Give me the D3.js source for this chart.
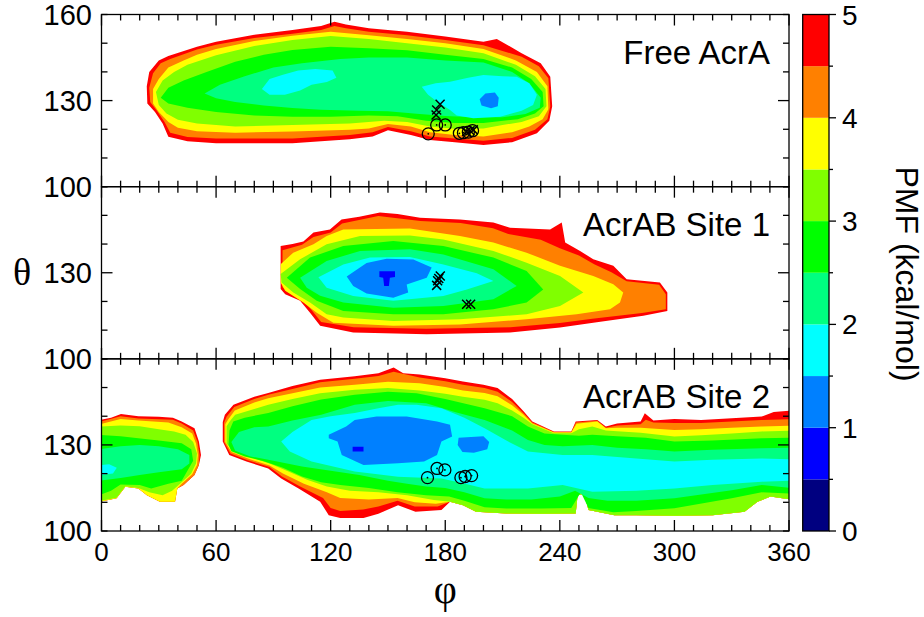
<!DOCTYPE html>
<html><head><meta charset="utf-8">
<script src="https://cdn.jsdelivr.net/npm/d3@7"></script>
<style>
body{margin:0;background:#fff}
text{font-family:"Liberation Sans",Arial,Helvetica,sans-serif;fill:#000}
</style></head>
<body><svg id="chart" width="924" height="617"></svg>
<script>
// ---------- data ----------
const levelBounds = [0,0.5,1,1.5,2,2.5,3,3.5,4,4.5,5];
const levelColors = ["#000080","#0000ff","#0080ff","#00ffff","#00ff80","#00ff00","#80ff00","#ffff00","#ff8000","#ff0000"];
const panelNames = ["Free AcrA","AcrAB Site 1","AcrAB Site 2"];
const phiTicks = [0,60,120,180,240,300,360];
const thetaLabelsTop = [160,130,100];
const thetaLabelsOther = [130,100];
const pmfTicks = [0,1,2,3,4,5];

// Free AcrA contour outlines [phi, theta], value = upper PMF bound of region
const top_L50 = [[23.7,135],[25,140],[30,144],[35,145.5],[50,148.8],[60,150.5],[80,152.9],[100,154.6],[115,156],[122,157.5],[128,156.5],[140,155.2],[160,154],[180,152.3],[200,150.5],[207,151.5],[220,146.5],[230,143],[235,138.3],[236,128],[234.5,123],[228,118.6],[215,115.5],[200,114.5],[185,115.5],[172,116.3],[162,118],[150,119.7],[142,117.5],[130,116.5],[100,115.1],[60,115.1],[45,115.8],[35,117.4],[32,122],[28,126],[24,129]];
const top_L45 = [[25,134.5],[27,139.5],[31,143],[36,144.5],[50,147.8],[60,149.5],[80,151.8],[100,153.3],[115,154.6],[122,156],[128,155.2],[140,154],[160,152.8],[180,151.1],[200,149.3],[220,145.3],[229,142],[234,137.8],[235,128],[233.5,123.5],[227,119.8],[215,117],[200,116],[185,116.8],[172,117.5],[162,119.3],[150,120.8],[142,119],[130,118],[100,116.8],[60,116.8],[45,117.3],[36,118.8],[33,122.5],[29,126.5],[25.5,129.5]];
const top_L40 = [[27,134],[30,137.5],[35,141.5],[43,144],[50,146],[60,148],[80,150.8],[100,152.6],[120,154],[140,152.8],[160,151.5],[180,150],[200,148],[217,144],[228,140],[233.5,135],[234,127],[231,123.5],[224,121],[215,119],[200,117.5],[185,118],[172,119],[162,121],[150,121.8],[140,120.3],[130,119.8],[100,119.2],[70,118.8],[50,119.3],[40,120.5],[35,122.5],[30,126],[27,129]];
const top_L35 = [[28.5,133],[32,137],[38,140],[45,142.5],[60,145.8],[80,149],[100,151.1],[120,152.5],[140,151.5],[160,150],[180,148.5],[200,146.5],[217,142.5],[227,138.5],[232.5,134],[233,128],[229,124.5],[220,122.5],[210,121.5],[200,120.3],[185,120.2],[172,121],[160,122.5],[148,123],[130,122],[100,121.5],[70,121],[50,122],[40,123.3],[34,125.5],[30,128.5]];
const top_L30 = [[31,131],[35,134.5],[43,137],[55,140],[70,143.5],[85,146],[100,147.6],[120,148.8],[140,148.2],[160,147.5],[180,146],[200,144.5],[215,141.5],[225,137.5],[231,133],[231.5,128],[227,125.5],[218,123.5],[200,122.2],[185,122.2],[170,123],[155,124.5],[140,124.8],[120,124.4],[100,124.4],[80,124.8],[60,126],[45,127.5],[35,129]];
const top_L25 = [[54,132.5],[62,135.5],[75,138.5],[90,141.5],[105,143],[125,144.5],[140,145],[160,145],[180,144],[200,143.3],[215,140],[224,136],[230,131],[229.5,127.5],[222,125.3],[210,124.2],[195,124.2],[180,124.6],[165,125.4],[150,126.3],[135,126.5],[115,126.8],[100,127.4],[85,128.3],[70,129.5],[60,130.8]];
const top_L20a = [[84,134],[88,137.5],[95,139],[103,140.5],[112,141],[121,140.5],[123,138],[118,136.5],[110,135.5],[104,133.5],[96,132],[88,132]];
const top_L20b = [[167.7,134.8],[175,136],[182.5,136.6],[192,138],[200,138.9],[210,138.5],[217.4,138.3],[224,136],[228,132],[226,128.5],[220,126.5],[208.7,124.4],[194.7,123.8],[186,124.8],[182.5,126.7],[176,129.5],[171,132]];
const top_L15 = [[198,130.5],[201,132.5],[206,132.8],[208,131],[207.5,128],[204,127.3],[199,128.3]];

// AcrAB Site 1
const mid_L50 = [[93.8,124.3],[93.8,139.3],[100,140],[105.7,140.9],[111,144],[119.6,145.1],[125.7,148.6],[135,149.5],[145.8,151],[155,150.5],[166.8,149.2],[187.7,148.6],[205.2,147.5],[213.9,145.7],[234.9,145.1],[241,147.5],[242.8,140.5],[250.6,137.6],[257.5,134.7],[268,132.4],[275,127.7],[292.4,126.6],[296.3,123.1],[296.3,116.7],[283.7,115],[257.5,112.6],[240.1,110.9],[213.9,109.2],[170.3,108.6],[131.8,109.2],[114.5,111.5],[109.2,116.1],[104,120.2],[96.2,122.5]];
const mid_L45 = [[94.8,125],[94.8,137.8],[105,139.8],[111,142.5],[120,144],[126,147.2],[145,149.8],[167,148],[188,147.3],[205,145.5],[213,143.5],[230,141.5],[240,138.5],[250,136],[258,133],[267,130.2],[275,127],[292,125.8],[295.5,122.5],[295.5,117.3],[283,116],[257,114],[240,112.5],[214,111],[170,110.5],[132,111],[115,112.8],[110,117],[104.5,121],[97,123.5]];
const mid_L40 = [[93.8,133],[100.4,137],[111,139.9],[117.9,142.8],[126.6,145.1],[161.5,145.4],[187.7,142.8],[205.2,140.5],[222.6,137],[240.1,132.4],[257.5,128.9],[268,126],[273.2,123.1],[271.5,119.6],[266.3,117.3],[248.8,115.5],[222.6,113.8],[187.7,112],[152.8,111.5],[121.4,112.6],[112.7,116.1],[105.7,119.6],[96.2,123.7],[93.8,126.6]];
const mid_L35 = [[93.8,129.6],[104,134.7],[117.9,139.9],[135.4,142.8],[161.5,143],[179,141.6],[205.2,137.6],[222.6,133.5],[240.1,128.9],[252.3,123.1],[240.1,118.4],[222.6,115.5],[187.7,113.8],[152.8,113.2],[126.6,114.4],[117.9,115.5],[109.2,119.6],[100.4,123.1],[94.3,126.6]];
const mid_L30 = [[97,128.3],[109.2,135.3],[126.6,139.3],[152.8,141.1],[179,139.3],[205.2,135.3],[222.6,130.6],[231.3,124.2],[222.6,119.6],[205.2,117.3],[179,115.5],[152.8,115.5],[126.6,116.7],[112.7,120.2],[104,124.3]];
const mid_L25 = [[104,128.3],[117.9,134.1],[135.4,137.6],[161.5,138.2],[179,136.4],[205.2,131.2],[217.4,125.4],[205.2,120.8],[179,118.4],[152.8,117.8],[126.6,119.6],[114.5,122],[107.5,124.8]];
const mid_L20 = [[113.6,128.4],[126.6,132.9],[140.6,135.3],[161.5,135.5],[179,132.9],[196.5,129.8],[205.2,127.1],[191.3,124.2],[179,121.9],[152.8,120.2],[131.8,121.9],[117.9,124.8]];
const mid_L15 = [[128.4,128.7],[138.8,133.4],[149.3,134.9],[163.3,134.6],[172.9,131.8],[170.3,128.3],[159.8,125.9],[160.6,123.1],[152.8,121.3],[138.8,122.8],[131.8,125.4]];
const mid_L10 = [[145.5,130.5],[153.7,130.5],[153.7,128.5],[151,128.3],[150.5,125.4],[148,125.4],[147.5,128.3],[145.5,128.5]];

// AcrAB Site 2
const bot_L50 = [[63.5,131.2],[63.5,138],[64.6,140.5],[69.1,144],[80,146.8],[87.3,148.1],[100,150.5],[114.5,152.7],[132.6,153.9],[145,155],[153,157],[158,155],[166.6,154.5],[180,153.2],[189.3,152.1],[200,151],[207.4,149.8],[215,146],[221,141.7],[225.6,138.2],[236.9,134.7],[246,134.7],[248.3,138.2],[259.6,138.7],[264.1,136.4],[270,137.5],[282.3,138.2],[284.5,141],[289,138.5],[300,139],[314,138.7],[330,139.3],[345.7,139.9],[352,141.5],[361,142],[361,111],[350.3,112],[343.5,110.2],[336.7,106.7],[320,105.5],[300,105.3],[280,105.5],[268.6,105.5],[255,107.3],[252.8,113],[249.3,112.5],[248.3,106.1],[230,106],[212,106.1],[196.1,106.7],[189.3,109],[182.5,110.2],[178,107.3],[164.4,106.7],[155.3,109],[145,106],[137.2,104.5],[125,104.5],[119,105.5],[114.5,110.2],[103.2,114.8],[94.1,118.3],[87.3,121.8],[75.9,124.2],[66.9,126.5]];
const bot_L45 = [[64.2,131],[64.2,137.8],[65.5,139.8],[69.5,143.2],[80,146],[87.3,147.5],[100,149.5],[114.5,151.8],[132.6,153.1],[145,154],[153,155.5],[166.6,153.5],[180,152.2],[189.3,151],[200.6,149.8],[207.4,148.5],[215,145],[221,141],[225.6,137.8],[236.9,134.5],[246,134.5],[248.5,137.8],[259.6,138.4],[264.1,136],[270,136.8],[282.3,137.2],[285,138.8],[289,137.8],[300,137.6],[314,137.6],[330,138.2],[345.7,138.7],[361,139],[361,111],[350.3,112],[343.5,110.2],[336.7,106.7],[320,105.5],[300,105.3],[280,105.5],[268.6,105.5],[255,107.3],[252.8,113],[249.3,112.5],[248.3,106.1],[230,106],[212,106.1],[196.1,106.7],[189.3,109],[182.5,110.2],[176,108.5],[164,108.5],[155,110.5],[145,108.5],[137,107.5],[125,107],[120,108],[116,111.5],[104,115.5],[94.5,119],[88,122.3],[76.5,124.7],[67.5,127]];
const bot_L40 = [[64.8,131],[64.8,137.2],[66.5,139],[69.8,142],[80,144.8],[87.3,146.3],[100,148],[114.5,150],[132.6,151],[150,152],[166.6,151.5],[180,150.2],[189.3,149],[200.6,148.1],[207.4,147],[215,143.8],[221,140.5],[225.6,137.5],[236.9,134.3],[246,134.3],[248.8,137.4],[259.6,138.2],[264.1,135.8],[270,136],[282.3,136],[300,135.2],[314,135.5],[330,136],[345.7,136.4],[361,136.7],[361,111],[350.3,112],[343.5,110.2],[336.7,106.7],[320,105.5],[300,105.3],[280,105.5],[268.6,105.5],[255,107.3],[252.8,113],[249.3,112.5],[248.3,106.1],[230,106],[212,106.1],[196.1,106.7],[189.3,109],[182.5,110.2],[175,109.5],[164,110],[155,111.5],[140,111],[125,111.5],[118,113.5],[106,116.5],[95,120],[88,122.8],[77,125.2],[68,127.5]];
const bot_L35 = [[65.5,130.5],[65.5,136.5],[67.5,138.5],[70,140.5],[80,142.5],[87.3,144],[100,146],[114.5,148],[132.6,149.2],[150,149.8],[166.6,149],[180,147.8],[189.3,146.8],[200.6,145.7],[207.4,144.5],[215,142],[221,139.5],[225.6,137.2],[236.9,134.1],[246,134.1],[250,135.5],[257,136.4],[264.1,135],[270,134.8],[282.3,134.2],[300,132.9],[314,133.4],[330,134],[345.7,134.7],[361,135],[361,111],[350.3,112],[343.5,110.2],[336.7,106.7],[320,105.5],[300,105.3],[280,105.5],[268.6,105.5],[255,107.3],[252.8,113],[249.3,112.5],[248.3,106.1],[230,106],[212,106.1],[196.1,106.7],[189.3,109],[182.5,110.2],[174,110.8],[160,112.5],[145,113.5],[130,114],[118,115.5],[108,117.8],[97,121],[89,123.3],[78,125.8],[69,128]];
const bot_L30 = [[66.5,130],[67,135],[69,138.2],[75,139.5],[87.3,141.1],[100,143.5],[115,145.8],[132.6,147.5],[150,148.5],[165,148],[180,146],[200.6,142.8],[215,140],[223.3,136.4],[232,134],[241.5,133.5],[250,133.2],[257,133.5],[270,133],[285,132.5],[300,131.2],[320,131.5],[345.7,132.3],[361,132.5],[361,113],[345.7,113.5],[330,111.4],[300,107.9],[280,107],[268,106.5],[255,108],[251,113.5],[246,108],[230,107.8],[212,107.8],[200.6,108.3],[190,110.5],[182,112],[170,112.5],[155,113.5],[140,115],[125,116],[115,117],[105,119],[95,122],[85,124.3],[75,126],[68,127.8]];
const bot_L25 = [[68,131],[72,134.5],[80,136.2],[87.3,136.4],[100,138.5],[115,140.5],[132.6,144],[150,145.3],[170,144.5],[185,141.5],[200.6,138.7],[215,135],[223.3,131.7],[232,130],[241.5,129.5],[257,130],[270,129],[285,128.5],[300,127.7],[320,128.3],[345.7,128.8],[361,129],[361,115],[345.7,116],[330,114.2],[300,111.4],[280,110.5],[265,110.5],[255,111.5],[248,114],[240,112],[225,111],[212,111],[200.6,111.4],[190,113.5],[180,115],[170,115.5],[160,116.5],[150,117.5],[135,119.5],[120,121],[105,122.5],[90,124.5],[78,126],[70,128]];
const bot_L20 = [[94.1,131.2],[100,134.5],[110,138.7],[120,140],[132.6,141.1],[145,142.8],[155.3,144],[165,144],[178,142.8],[190,139.5],[200.6,135.8],[212,131.5],[223.3,127.7],[241.5,126.5],[257,126.5],[280,125.3],[300,124.2],[320,124.8],[345.7,125.3],[361,125],[361,117.5],[345.7,117.2],[320,116],[300,114.8],[280,114],[257,113.7],[241.5,116],[223.3,114.8],[200.6,114.8],[189.3,116.6],[178,118.3],[155.3,118.9],[132.6,120.7],[110,124.2],[98.6,127.7]];
const bot_L15a = [[119,133.5],[128.1,136.4],[132.6,138.7],[144,139.9],[159.8,139.9],[175.7,138.2],[182.5,137],[183.6,132.9],[178,131.2],[175.7,126.5],[168.9,124.2],[155.3,123.6],[137.2,123],[125.8,126.5],[123.6,131.2],[119,132.3]];
const bot_L15b = [[187,132.5],[200,133],[203,131],[202,128.5],[195,127.3],[189,127.5],[186.5,130]];
const bot_L10 = [[131.5,129.4],[137.2,129.4],[137.2,127.7],[131.5,127.7]];
const botLeft_L50 = [[-1,138.7],[5,139.5],[10.2,140.8],[19.3,140],[30,139.8],[37.4,139.5],[42,138.2],[48.7,135.8],[51,131.2],[52.1,126.5],[51,123],[48.7,119.5],[43,116],[39.7,114.8],[38.5,110.2],[30.6,110.2],[23.8,112.5],[19.3,114.8],[12.5,115.4],[7.9,111.4],[-1,110.2]];
const botLeft_L45 = [[-1,138],[10,140],[19.3,139.2],[37.4,138.8],[42,137.5],[48,135],[50.3,131],[51.3,126.5],[51,123],[48.7,119.5],[43,116],[39.7,114.8],[38.5,110.2],[30.6,110.2],[23.8,112.5],[19.3,114.8],[12.5,115.4],[7.9,111.4],[-1,110.2]];
const botLeft_L40 = [[-1,137.2],[10,139],[19.3,138.5],[35,137.8],[42,136.2],[47.5,134],[49.5,130.5],[50.5,126.5],[50,123],[47.5,119.8],[42,116.5],[39.7,114.8],[38.5,110.2],[30.6,110.2],[23.8,112.5],[19.3,114.8],[12.5,115.4],[7.9,111.4],[-1,110.2]];
const botLeft_L35 = [[-1,136.4],[10,136.8],[20,136.5],[30,135.5],[38,134.7],[44,133.5],[48,131],[50,127],[49.5,123.5],[47,120],[42,117],[37,114],[32,112.5],[25,113.5],[19.3,115],[12.5,115.6],[7.9,111.6],[-1,110.4]];
const botLeft_L30 = [[-1,133.5],[10,133],[19.3,132.3],[30,131.5],[42,130.6],[47,128.5],[48,124.5],[45,121],[42,117.5],[35,116.5],[26,114.8],[20,116],[10,116.2],[5,114],[-1,112.5]];
const botLeft_L25 = [[-1,128.5],[10,129.5],[20,130],[30,129.5],[40,128.5],[46,126.5],[46,123.5],[42,121.5],[30,120.5],[20,119.5],[10,118.5],[-1,117.5]];
const botLeft_L20 = [[-1,123],[4,123.3],[8,122],[6,120],[-1,119.5]];

// markers [phi, theta]
const topCircles = [[171.1,118.4],[175.5,121.5],[180,121.5],[187.4,118.6],[189.5,118.8],[192.1,119],[194.3,119.5]];
const topCrosses = [[177.3,128.7],[175.5,126.7],[175.2,125],[191.2,119.2],[193,119.5],[194.7,119.8]];
const midCrosses = [[177.4,128.9],[176.6,128],[176,127.2],[175.5,125.6],[191.2,119],[193.3,119]];
const botCircles = [[170.7,118.6],[175.7,121.8],[179.8,121.3],[188.2,118.6],[190.4,119],[193.8,119.3]];

// ---------- tables built from the arrays ----------
const regions = [
  {panel:0,level:5,pts:top_L50},{panel:0,level:4.5,pts:top_L45},{panel:0,level:4,pts:top_L40},
  {panel:0,level:3.5,pts:top_L35},{panel:0,level:3,pts:top_L30},{panel:0,level:2.5,pts:top_L25},
  {panel:0,level:2,pts:top_L20a},{panel:0,level:2,pts:top_L20b},{panel:0,level:1.5,pts:top_L15},
  {panel:1,level:5,pts:mid_L50},{panel:1,level:4.5,pts:mid_L45},{panel:1,level:4,pts:mid_L40},
  {panel:1,level:3.5,pts:mid_L35},{panel:1,level:3,pts:mid_L30},{panel:1,level:2.5,pts:mid_L25},
  {panel:1,level:2,pts:mid_L20},{panel:1,level:1.5,pts:mid_L15},{panel:1,level:1,pts:mid_L10},
  {panel:2,level:5,pts:bot_L50},{panel:2,level:4.5,pts:bot_L45},{panel:2,level:4,pts:bot_L40},
  {panel:2,level:3.5,pts:bot_L35},{panel:2,level:3,pts:bot_L30},{panel:2,level:2.5,pts:bot_L25},
  {panel:2,level:2,pts:bot_L20},{panel:2,level:1.5,pts:bot_L15a},{panel:2,level:1.5,pts:bot_L15b},{panel:2,level:1,pts:bot_L10},
  {panel:2,level:5,pts:botLeft_L50},{panel:2,level:4.5,pts:botLeft_L45},{panel:2,level:4,pts:botLeft_L40},
  {panel:2,level:3.5,pts:botLeft_L35},{panel:2,level:3,pts:botLeft_L30},{panel:2,level:2.5,pts:botLeft_L25},
  {panel:2,level:2,pts:botLeft_L20}
];
const markers = [
  {panel:0,type:"circle",pts:topCircles},{panel:0,type:"cross",pts:topCrosses},
  {panel:1,type:"cross",pts:midCrosses},{panel:2,type:"circle",pts:botCircles}
];

// ---------- layout ----------
const svg = d3.select("#chart");
const plotL = 101.5, plotR = 789, plotT = 14.5, plotB = 531;
const panelH = (plotB - plotT) / 3;
const x = d3.scaleLinear().domain([0,360]).range([plotL, plotR]);
const yScales = [0,1,2].map(i => d3.scaleLinear().domain([100,160]).range([plotT + (i+1)*panelH, plotT + i*panelH]));
const color = d3.scaleThreshold().domain(levelBounds.slice(1,-1)).range(levelColors);

const defs = svg.append("defs");
yScales.forEach((ys,i) => {
  defs.append("clipPath").attr("id","clip"+i).append("rect")
    .attr("x",plotL).attr("y",ys(160)).attr("width",plotR-plotL).attr("height",ys(100)-ys(160));
});

// heatmap regions
yScales.forEach((ys,i) => {
  const g = svg.append("g").attr("clip-path",`url(#clip${i})`);
  const line = d3.line().x(d=>x(d[0])).y(d=>ys(d[1])).curve(d3.curveLinearClosed);
  regions.filter(r=>r.panel===i).sort((a,b)=>b.level-a.level).forEach(r=>{
    g.append("path").attr("d",line(r.pts)).attr("fill",color(r.level-0.25)).attr("stroke","none");
  });
  // markers
  markers.filter(m=>m.panel===i).forEach(m=>{
    m.pts.forEach(p=>{
      const cx=x(p[0]), cy=ys(p[1]);
      if(m.type==="circle"){
        g.append("circle").attr("cx",cx).attr("cy",cy).attr("r",6).attr("fill","none").attr("stroke","#000").attr("stroke-width",1.3);
        g.append("circle").attr("cx",cx).attr("cy",cy).attr("r",0.9).attr("fill","#000");
      } else {
        const s=4.5;
        g.append("path").attr("d",`M${cx-s},${cy-s}L${cx+s},${cy+s}M${cx-s},${cy+s}L${cx+s},${cy-s}`).attr("stroke","#000").attr("stroke-width",1.5);
      }
    });
  });
});

// frames and ticks
const axisG = svg.append("g").attr("stroke","#000").attr("stroke-width",1.3).attr("fill","none");
const minorPhi = d3.range(0,361,10);
const minorTheta = d3.range(100,161,10);
yScales.forEach((ys,i)=>{
  const t=ys(160), b=ys(100);
  axisG.append("rect").attr("x",plotL).attr("y",t).attr("width",plotR-plotL).attr("height",b-t);
  minorPhi.forEach(v=>{
    const L = (v%60===0)?11:6;
    axisG.append("line").attr("x1",x(v)).attr("x2",x(v)).attr("y1",b).attr("y2",b-L);
    axisG.append("line").attr("x1",x(v)).attr("x2",x(v)).attr("y1",t).attr("y2",t+L);
  });
  minorTheta.forEach(v=>{
    const L = (v===130)?11:6;
    axisG.append("line").attr("x1",plotL).attr("x2",plotL+L).attr("y1",ys(v)).attr("y2",ys(v));
    axisG.append("line").attr("x1",plotR).attr("x2",plotR-L).attr("y1",ys(v)).attr("y2",ys(v));
  });
  // y tick labels
  const labs = i===0?thetaLabelsTop:thetaLabelsOther;
  labs.forEach(v=>{
    svg.append("text").attr("x",92).attr("y",ys(v)+10).attr("text-anchor","end")
      .style("font-size","29px").text(v);
  });
  // panel name
  svg.append("text").attr("x",770).attr("y",ys(160)+49).attr("text-anchor","end")
    .style("font-size","33px").text(panelNames[i]);
});

// x tick labels
phiTicks.forEach(v=>{
  svg.append("text").attr("x",x(v)).attr("y",561).attr("text-anchor","middle")
    .style("font-size","26px").text(v);
});
// axis titles
svg.append("text").attr("x",x(180)).attr("y",603).attr("text-anchor","middle")
  .style("font-family","'Liberation Serif','Times New Roman',serif").style("font-size","40px").text("φ");
svg.append("text").attr("transform","translate(22,272)").attr("text-anchor","middle").attr("dy","0.35em")
  .style("font-family","'Liberation Serif','Times New Roman',serif").style("font-size","38px").text("θ");

// colorbar
const cbL = 802.7, cbR = 829;
const yc = d3.scaleLinear().domain([0,5]).range([plotB, plotT]);
const cb = svg.append("g");
levelColors.forEach((c,k)=>{
  cb.append("rect").attr("x",cbL).attr("y",yc(levelBounds[k+1])).attr("width",cbR-cbL)
    .attr("height",yc(levelBounds[k])-yc(levelBounds[k+1])).attr("fill",c);
});
cb.append("rect").attr("x",cbL).attr("y",plotT).attr("width",cbR-cbL).attr("height",plotB-plotT)
  .attr("fill","none").attr("stroke","#000").attr("stroke-width",1.3);
levelBounds.forEach(v=>{
  const L = Number.isInteger(v)?7:4;
  cb.append("line").attr("x1",cbR).attr("x2",cbR+L).attr("y1",yc(v)).attr("y2",yc(v)).attr("stroke","#000").attr("stroke-width",1.3);
});
pmfTicks.forEach(v=>{
  cb.append("text").attr("x",842).attr("y",yc(v)+10).style("font-size","28px").text(v);
});
svg.append("text").attr("transform","translate(896,274) rotate(90)").attr("text-anchor","middle")
  .style("font-size","32px").text("PMF (kcal/mol)");
</script>
</body></html>
